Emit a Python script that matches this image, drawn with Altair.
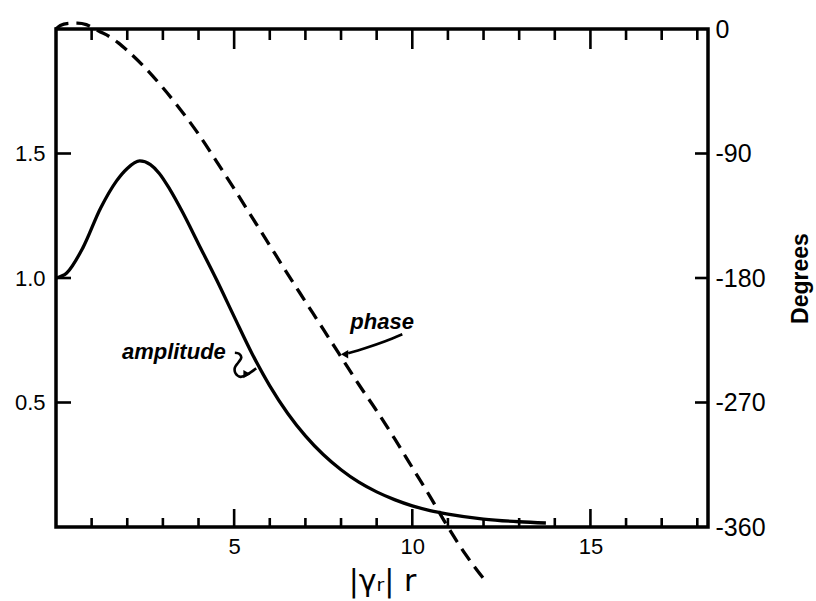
import altair as alt
import pandas as pd

W, H = 652, 498

# amplitude curve (left axis)
amp_x = [0, 0.3, 0.75, 1.25, 1.7, 2.0, 2.35, 2.65, 2.9, 3.2, 3.55, 4.0, 4.5, 5.0,
         5.5, 6.0, 6.5, 7.0, 7.5, 8.0, 8.5, 9.0, 9.5, 10.0, 10.5, 11.0, 12.0,
         13.0, 13.75]
amp_y = [1.0, 1.02, 1.12, 1.28, 1.39, 1.44, 1.47, 1.455, 1.42, 1.355, 1.265, 1.137,
         0.995, 0.845, 0.697, 0.567, 0.457, 0.366, 0.291, 0.230, 0.180, 0.141, 0.110,
         0.085, 0.066, 0.052, 0.032, 0.021, 0.016]

# phase curve (right axis, degrees)
phase_x = [0, 0.12, 0.35, 0.6, 0.85, 1.0, 1.2, 1.5, 1.75, 2.0, 2.5, 3.0, 3.5, 4.0,
           4.5, 5.0, 5.5, 6.0, 6.5, 7.0, 7.5, 8.0, 8.5, 9.0, 9.5, 10.0, 10.5,
           11.0, 11.5, 12.05]
phase_deg = [0, 2.6, 4.0, 4.3, 3.2, 1.3, -1.5, -5.5, -10, -15.5, -28, -42.5, -58.5, -76,
             -95.5, -115.5, -136, -156.5, -177, -197, -217, -237, -257, -276, -296,
             -317, -338, -360, -380, -399]

# frame ticks
x_tick_minor = [1, 2, 3, 4, 6, 7, 8, 9, 11, 12, 13, 14, 16, 17, 18]
x_tick_major = [5, 10, 15]
amp_ticks = [0.5, 1.0, 1.5]
deg_ticks = [-90, -180, -270]
deg_labels = [0, -90, -180, -270, -360]

# annotations (in data units of x and amplitude)
ann_text = ["amplitude", "phase"]
ann_x = [1.85, 8.26]
ann_y = [0.673, 0.794]

phase_arrow_x = [9.72, 9.24, 8.67, 8.2]
phase_arrow_y = [0.774, 0.746, 0.718, 0.698]
amp_hook_x = [5.02, 5.14, 5.2, 5.12, 5.02, 5.04, 5.18, 5.36, 5.62]
amp_hook_y = [0.700, 0.696, 0.680, 0.661, 0.640, 0.617, 0.603, 0.612, 0.637]
head_x = [8.1, 5.36]
head_y = [0.694, 0.614]
head_shape = ["triangle-left", "triangle-right"]

xs = alt.Scale(domain=[0, 18.3], nice=False, zero=False)
ys_amp = alt.Scale(domain=[0, 2.0], nice=False, zero=False)
ys_deg = alt.Scale(domain=[-360, 0], nice=False, zero=False)

FONT = "Liberation Sans"

x_axis = alt.Axis(values=x_tick_major, format="d", labelFont=FONT, labelFontSize=22,
                  labelColor="black", ticks=False, tickSize=0, domain=False, grid=False,
                  labelPadding=9, title="|γᵣ| r", titleFont="DejaVu Sans",
                  titleFontSize=30, titleFontWeight="normal", titleColor="black",
                  titleX=326, titleY=63, titleAlign="center", titleBaseline="alphabetic")
left_axis = alt.Axis(orient="left", values=amp_ticks, format=".1f", labelFont=FONT,
                     labelFontSize=22, labelColor="black", ticks=False, tickSize=0,
                     domain=False, grid=False, labelPadding=11, title=None)
right_axis = alt.Axis(orient="right", values=deg_labels, labelExpr="'' + datum.value",
                      labelFont=FONT, labelFontSize=25, labelColor="black", ticks=False,
                      tickSize=0, domain=False, grid=False, labelPadding=7,
                      title="Degrees", titleFont=FONT, titleFontSize=23,
                      titleFontWeight="bold", titleColor="black", titleAngle=270,
                      titleX=99, titleY=249, titleAlign="center",
                      titleBaseline="alphabetic")

X = lambda f="x": alt.X(f + ":Q", scale=xs, axis=x_axis)
YA = lambda f="y": alt.Y(f + ":Q", scale=ys_amp, axis=left_axis)
YD = lambda f="deg": alt.Y(f + ":Q", scale=ys_deg, axis=right_axis)

amp_df = pd.DataFrame({"x": amp_x, "y": amp_y})
phase_df = pd.DataFrame({"x": phase_x, "deg": phase_deg})

amp_line = alt.Chart(amp_df).mark_line(color="black", strokeWidth=3.3,
                                       interpolate="monotone").encode(x=X(), y=YA())

def xrule(vals, y0, y1):
    return alt.Chart(pd.DataFrame({"x": vals})).mark_rule(
        color="black", strokeWidth=2.6).encode(x=X(), y=alt.value(y0), y2=alt.value(y1))

bot_minor = xrule(x_tick_minor, H, H - 9)
bot_major = xrule(x_tick_major, H, H - 18)
top_minor = xrule(x_tick_minor, 0, 11)
top_major = xrule(x_tick_major, 0, 20)

left_ticks = alt.Chart(pd.DataFrame({"y": amp_ticks})).mark_rule(
    color="black", strokeWidth=2.6).encode(y=YA(), x=alt.value(0), x2=alt.value(15))

ann = alt.Chart(pd.DataFrame({"x": ann_x, "y": ann_y, "t": ann_text})).mark_text(
    font=FONT, fontSize=22, fontWeight="bold", fontStyle="italic", align="left",
    baseline="alphabetic", color="black").encode(x=X(), y=YA(), text="t:N")

arrow1 = alt.Chart(pd.DataFrame({"x": phase_arrow_x, "y": phase_arrow_y,
                                 "o": list(range(len(phase_arrow_x)))})).mark_line(
    color="black", strokeWidth=2.6, interpolate="monotone").encode(
    x=X(), y=YA(), order="o:Q")
arrow2 = alt.Chart(pd.DataFrame({"x": amp_hook_x, "y": amp_hook_y,
                                 "o": list(range(len(amp_hook_x)))})).mark_line(
    color="black", strokeWidth=2.6, interpolate="cardinal").encode(
    x=X(), y=YA(), order="o:Q")
heads = alt.Chart(pd.DataFrame({"x": head_x, "y": head_y, "s": head_shape})).mark_point(
    filled=True, color="black", opacity=1, size=70).encode(
    x=X(), y=YA(), shape=alt.Shape("s:N", scale=None))

left_group = alt.layer(amp_line, bot_minor, bot_major, top_minor, top_major,
                       left_ticks, ann, arrow1, arrow2, heads)

phase_line = alt.Chart(phase_df).mark_line(color="black", strokeWidth=3.3,
                                           strokeDash=[14, 8],
                                           interpolate="monotone").encode(
    x=X(), y=YD())
right_ticks = alt.Chart(pd.DataFrame({"deg": deg_ticks})).mark_rule(
    color="black", strokeWidth=2.6).encode(y=YD(), x=alt.value(W), x2=alt.value(W - 13))

right_group = alt.layer(phase_line, right_ticks)

chart = alt.layer(left_group, right_group).resolve_scale(y="independent").properties(
    width=W, height=H,
    padding={"left": 56, "top": 29, "right": 108, "bottom": 74},
    autosize=alt.AutoSizeParams(type="none"),
    background="white",
).configure_view(stroke="black", strokeWidth=3.5)

chart.save("out.html", embed_options={"renderer": "svg", "actions": False})
